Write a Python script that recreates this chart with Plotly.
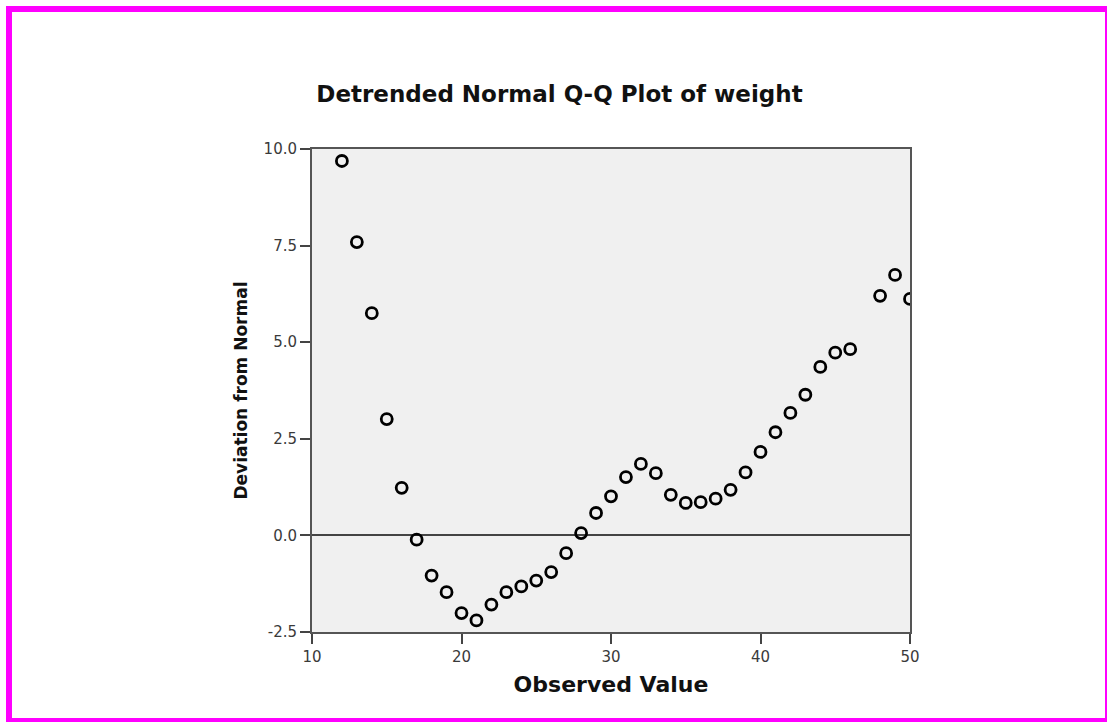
import plotly.graph_objects as go

# Observed values of weight and their deviation from the normal expectation
observed = [12, 13, 14, 15, 16, 17, 18, 19, 20, 21, 22, 23, 24, 25, 26, 27, 28, 29, 30,
            31, 32, 33, 34, 35, 36, 37, 38, 39, 40, 41, 42, 43, 44, 45, 46, 48, 49, 50]
deviation = [9.69, 7.59, 5.75, 3.01, 1.23, -0.11, -1.04, -1.47, -2.01, -2.20, -1.79, -1.47,
             -1.32, -1.17, -0.95, -0.46, 0.06, 0.58, 1.01, 1.51, 1.85, 1.61, 1.05, 0.84,
             0.86, 0.95, 1.18, 1.63, 2.16, 2.67, 3.17, 3.64, 4.36, 4.73, 4.82, 6.20, 6.74, 6.12]

x_ticks = [10, 20, 30, 40, 50]
y_ticks = [-2.5, 0.0, 2.5, 5.0, 7.5, 10.0]
y_tick_text = ["-2.5", "0.0", "2.5", "5.0", "7.5", "10.0"]

W, H = 1107, 722
ML, MR, MT, MB = 312, 197, 149, 90
PW, PH = W - ML - MR, H - MT - MB


def px_to_paper_x(px):
    return (px - ML) / PW


def px_to_paper_y(py):
    return (H - MB - py) / PH


fig = go.Figure()
fig.add_trace(go.Scatter(
    x=observed, y=deviation, mode="markers",
    marker=dict(symbol="circle-open", size=11, color="#000000",
                line=dict(width=2.8, color="#000000")),
    cliponaxis=True, hoverinfo="x+y",
))

axis_font = dict(family="DejaVu Sans", size=15, color="#3a3a3a")

fig.update_layout(
    width=W, height=H,
    margin=dict(l=ML, r=MR, t=MT, b=MB),
    paper_bgcolor="#FFFFFF",
    plot_bgcolor="#F0F0F0",
    showlegend=False,
    title=dict(text="Detrended Normal Q-Q Plot of weight",
               font=dict(family="DejaVu Sans", size=23, color="#111111", weight="bold"),
               x=559.5 / W, xanchor="center", xref="container",
               y=1 - 94 / H, yanchor="middle", yref="container"),
    xaxis=dict(range=[10, 50], tickvals=x_ticks, ticks="outside", ticklen=10,
               tickwidth=2, tickcolor="#444444", tickfont=axis_font,
               showline=True, linecolor="#555555", linewidth=2, mirror=True,
               showgrid=False, zeroline=False,
               title=dict(text="Observed Value", standoff=12,
                          font=dict(family="DejaVu Sans", size=22, color="#111111",
                                    weight="bold"))),
    yaxis=dict(range=[-2.5, 10], tickvals=y_ticks, ticktext=y_tick_text,
               ticks="outside", ticklen=10, tickwidth=2, tickcolor="#444444",
               tickfont=axis_font, showline=True, linecolor="#555555", linewidth=2,
               mirror=True, showgrid=False,
               zeroline=True, zerolinecolor="#444444", zerolinewidth=1.8,
               title=dict(text="Deviation from Normal", standoff=12,
                          font=dict(family="DejaVu Sans", size=17, color="#111111",
                                    weight="bold"))),
    shapes=[dict(type="rect", xref="paper", yref="paper", layer="above",
                 x0=px_to_paper_x(9), x1=px_to_paper_x(1108),
                 y0=px_to_paper_y(721), y1=px_to_paper_y(9),
                 line=dict(color="#FF00FF", width=6), fillcolor="rgba(0,0,0,0)")],
)

fig.write_html("out.html")
